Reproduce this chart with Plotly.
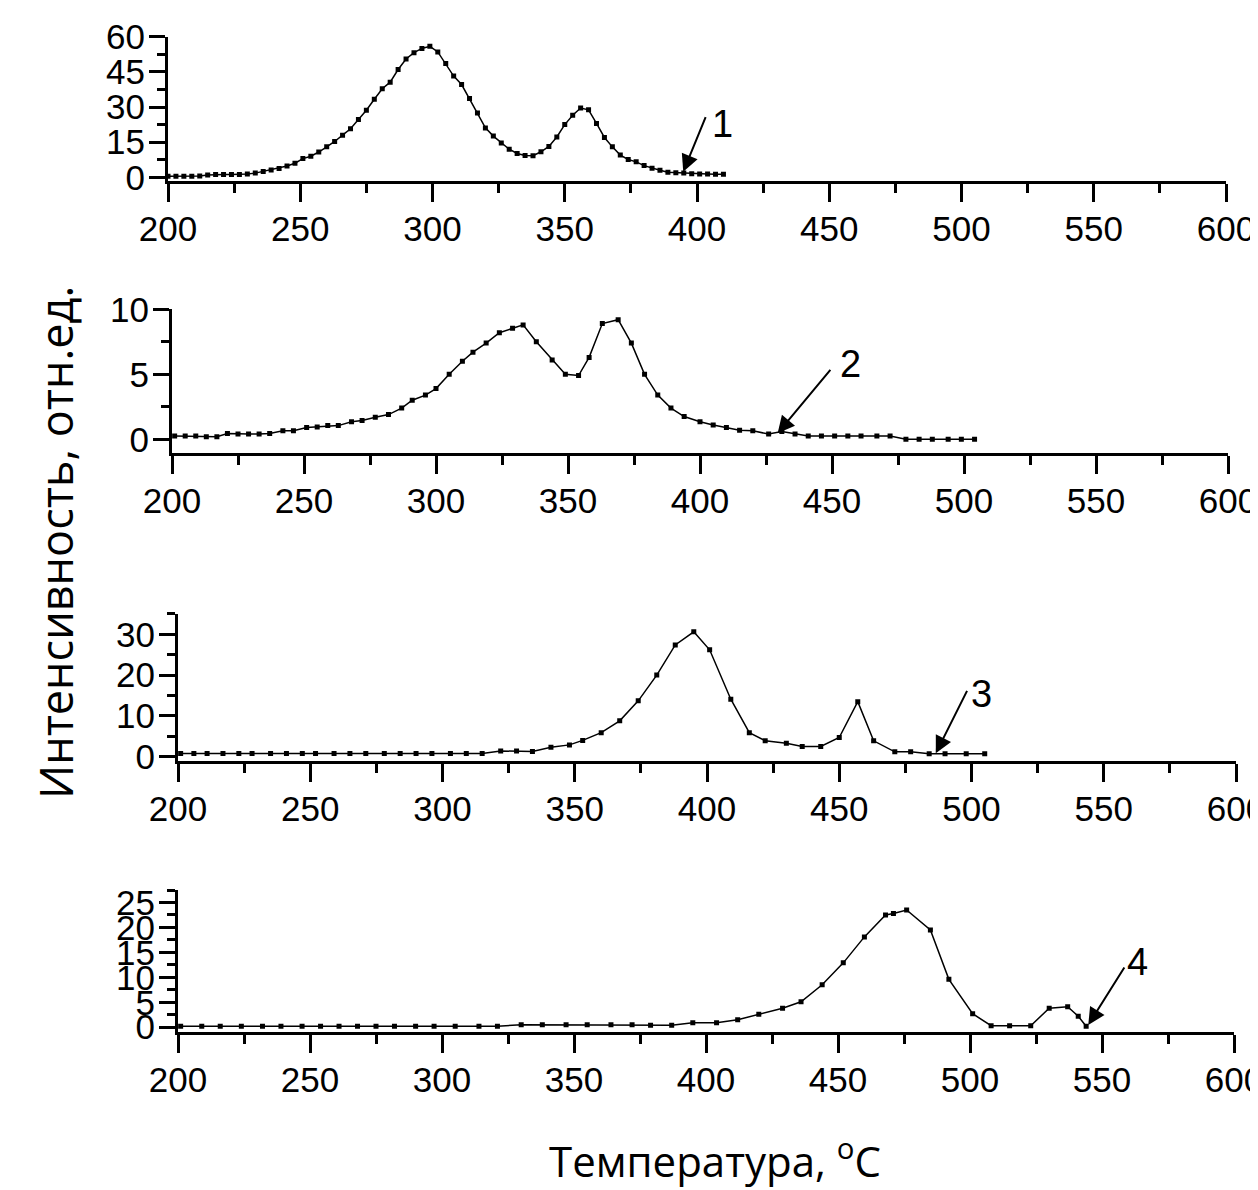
import plotly.graph_objects as go

# ---------------- data ----------------
T1 = [200, 203, 206, 209, 212, 215, 218, 221, 224, 227, 230, 233, 236, 239, 242, 245, 248,
      251, 254, 257, 260, 263, 266, 269, 272, 275, 278, 281, 284, 287, 290, 293, 296, 299,
      302, 305, 308, 311, 314, 317, 320, 323, 326, 329, 332, 335, 338, 341, 344, 347, 350,
      353, 356, 359, 362, 365, 368, 371, 374, 377, 380, 383, 386, 389, 392, 395, 398, 401,
      404, 407, 410]
V1 = [0.5, 0.5, 0.5, 0.5, 0.6, 1.0, 1.2, 1.2, 1.2, 1.2, 1.4, 1.8, 2.5, 3.1, 3.8, 4.8, 6.0,
      8.0, 9.0, 10.8, 13.0, 15.3, 18.0, 20.7, 24.7, 28.6, 33.3, 37.8, 40.6, 46.0, 50.5, 53.2,
      55.0, 55.9, 53.5, 48.6, 43.2, 39.6, 33.6, 27.4, 21.1, 17.6, 14.6, 12.0, 10.2, 9.3, 9.2,
      10.9, 13.2, 17.2, 22.5, 26.5, 29.6, 28.8, 23.0, 17.0, 13.0, 9.5, 7.6, 6.6, 5.0, 3.9,
      3.0, 2.2, 2.0, 1.8, 1.5, 1.4, 1.4, 1.3, 1.3]

T2 = [201, 205, 209, 213, 217, 221, 225, 229, 233, 237, 242, 246, 251, 255, 259, 263, 268,
      272, 277, 282, 287, 291, 296, 300, 305, 310, 314, 319, 324, 329, 333, 338, 344, 349,
      354, 358, 363, 369, 374, 379, 384, 389, 394, 400, 405, 410, 415, 420, 426, 431, 436,
      441, 446, 451, 456, 461, 467, 472, 478, 483, 488, 494, 499, 504]
V2 = [0.25, 0.25, 0.25, 0.2, 0.2, 0.45, 0.4, 0.4, 0.4, 0.45, 0.65, 0.65, 0.9, 0.95, 1.05,
      1.05, 1.35, 1.45, 1.7, 1.9, 2.4, 3.0, 3.4, 3.9, 5.0, 6.0, 6.7, 7.4, 8.2, 8.55, 8.8,
      7.5, 6.1, 5.0, 4.9, 6.3, 8.9, 9.2, 7.4, 5.0, 3.4, 2.4, 1.75, 1.35, 1.1, 0.9, 0.7,
      0.65, 0.4, 0.6, 0.4, 0.25, 0.25, 0.25, 0.25, 0.25, 0.25, 0.25, 0.0, 0.0, 0.0, 0.0,
      0.0, 0.0]

T3 = [201, 206, 211, 217, 223, 228, 235, 241, 247, 252, 259, 265, 271, 278, 284, 290, 296,
      303, 309, 315, 322, 328, 334, 341, 348, 353, 360, 367, 374, 381, 388, 395, 401, 409,
      416, 422, 430, 436, 443, 450, 457, 463, 471, 477, 484, 490, 498, 505]
V3 = [0.8, 0.8, 0.8, 0.8, 0.8, 0.8, 0.8, 0.8, 0.8, 0.8, 0.8, 0.8, 0.8, 0.8, 0.8, 0.8, 0.8,
      0.8, 0.8, 0.8, 1.4, 1.4, 1.3, 2.3, 2.9, 4.0, 5.9, 8.8, 13.7, 20.0, 27.4, 30.6, 26.2,
      14.1, 5.9, 3.9, 3.3, 2.5, 2.5, 4.7, 13.5, 3.9, 1.2, 1.2, 0.7, 0.7, 0.7, 0.7]

T4 = [201, 209, 216, 224, 232, 239, 247, 254, 261, 268, 275, 282, 290, 297, 305, 314, 321,
      330, 338, 347, 355, 364, 372, 379, 387, 395, 404, 412, 420, 429, 436, 444, 452, 460,
      468, 471, 476, 485, 492, 501, 508, 515, 523, 530, 537, 541, 544]
V4 = [0.2, 0.2, 0.2, 0.2, 0.2, 0.2, 0.2, 0.2, 0.2, 0.2, 0.2, 0.2, 0.2, 0.2, 0.2, 0.2, 0.2,
      0.5, 0.5, 0.5, 0.5, 0.5, 0.5, 0.4, 0.4, 0.9, 0.9, 1.5, 2.6, 3.8, 5.1, 8.5, 12.9, 18.1,
      22.5, 22.8, 23.5, 19.5, 9.6, 2.7, 0.3, 0.3, 0.3, 3.8, 4.1, 2.2, 0.2]

SERIES = [(T1, V1), (T2, V2), (T3, V3), (T4, V4)]
CURVE_LABELS = ["1", "2", "3", "4"]
Y_TITLE = "Интенсивность, отн.ед."
X_TITLE = "Температура, <sup>o</sup>C"

# ---------------- layout geometry (window pixels) ----------------
W, H = 1258, 1190
O = 8  # page body margin: figure origin sits at (8, 8) in the window
panels = [
    dict(xl=168, xr=1226, yt=36.7, yb=180.5, yr=[-1.35, 60], dt=15, mn=7.5),
    dict(xl=172, xr=1228, yt=309.3, yb=453.3, yr=[-1.08, 10], dt=5, mn=2.5),
    dict(xl=178, xr=1236, yt=613.9, yb=760.8, yr=[-1.0, 35], dt=10, mn=5),
    dict(xl=178, xr=1234, yt=890.0, yb=1031.7, yr=[-0.9, 27.5], dt=5, mn=2.5),
]
arrows = [
    dict(tx=394.8, ty=2.4, ax=23, ay=-56, lx=409.8, ly=22.7),
    dict(tx=429.4, ty=0.46, ax=54, ay=-65, lx=456.9, ly=5.8),
    dict(tx=486.5, ty=0.83, ax=32, ay=-64, lx=503.9, ly=15.4),
    dict(tx=544.8, ty=0.46, ax=37, ay=-59, lx=563.3, ly=13.1),
]


def px(x):
    return (x - O) / W


def py(y):
    return 1 - (y - O) / H


TICKFONT = dict(family="Liberation Sans, Arial, sans-serif", size=35, color="black")
LABELFONT = dict(family="Liberation Sans, Arial, sans-serif", size=38, color="black")
XTITLEFONT = dict(family="Open Sans, Noto Sans, sans-serif", size=42, color="black")
YTITLEFONT = dict(family="Open Sans, Noto Sans, sans-serif", size=45, color="black")

fig = go.Figure()
layout = dict(width=W, height=H, margin=dict(l=0, r=0, t=0, b=0, autoexpand=False),
              plot_bgcolor="white", paper_bgcolor="white", showlegend=False)
annotations = []

for i, (p, (T, V)) in enumerate(zip(panels, SERIES)):
    n = "" if i == 0 else str(i + 1)
    xa, ya = "x" + n, "y" + n
    fig.add_trace(go.Scatter(
        x=T, y=V, xaxis=xa, yaxis=ya, mode="lines+markers",
        line=dict(color="black", width=1.5),
        marker=dict(symbol="square", size=5, color="black"),
    ))
    layout["xaxis" + n] = dict(
        domain=[px(p["xl"]), px(p["xr"])], anchor=ya, range=[200, 600],
        tick0=200, dtick=50, ticks="outside", ticklen=18, tickwidth=2.5, tickcolor="black",
        showline=True, linecolor="black", linewidth=3, showgrid=False, zeroline=False,
        tickfont=TICKFONT, ticklabelstandoff=-3, automargin=False, ticklabeloverflow="allow",
        minor=dict(dtick=25, ticks="outside", ticklen=9, tickwidth=2.5, tickcolor="black", showgrid=False),
    )
    layout["yaxis" + n] = dict(
        domain=[py(p["yb"]), py(p["yt"])], anchor=xa, range=p["yr"],
        tick0=0, dtick=p["dt"], ticks="outside", ticklen=16, tickwidth=2.5, tickcolor="black",
        showline=True, linecolor="black", linewidth=3, showgrid=False, zeroline=False,
        tickfont=TICKFONT, ticklabelstandoff=-3, automargin=False, ticklabeloverflow="allow",
        minor=dict(dtick=p["mn"], ticks="outside", ticklen=8, tickwidth=2.5, tickcolor="black", showgrid=False),
    )
    a = arrows[i]
    annotations.append(dict(
        x=a["tx"], y=a["ty"], xref=xa, yref=ya, text="", showarrow=True,
        ax=a["ax"], ay=a["ay"], arrowhead=2, arrowsize=1.7, arrowwidth=2, arrowcolor="black",
    ))
    annotations.append(dict(
        x=a["lx"], y=a["ly"], xref=xa, yref=ya, text=CURVE_LABELS[i], showarrow=False,
        font=LABELFONT, xanchor="center", yanchor="middle",
    ))

annotations.append(dict(x=px(55), y=py(543), xref="paper", yref="paper", text=Y_TITLE,
                        textangle=-90, showarrow=False, font=YTITLEFONT,
                        xanchor="center", yanchor="middle"))
annotations.append(dict(x=px(715), y=py(1158), xref="paper", yref="paper", text=X_TITLE,
                        showarrow=False, font=XTITLEFONT, xanchor="center", yanchor="middle"))
layout["annotations"] = annotations
fig.update_layout(**layout)
fig.write_html("out.html")
